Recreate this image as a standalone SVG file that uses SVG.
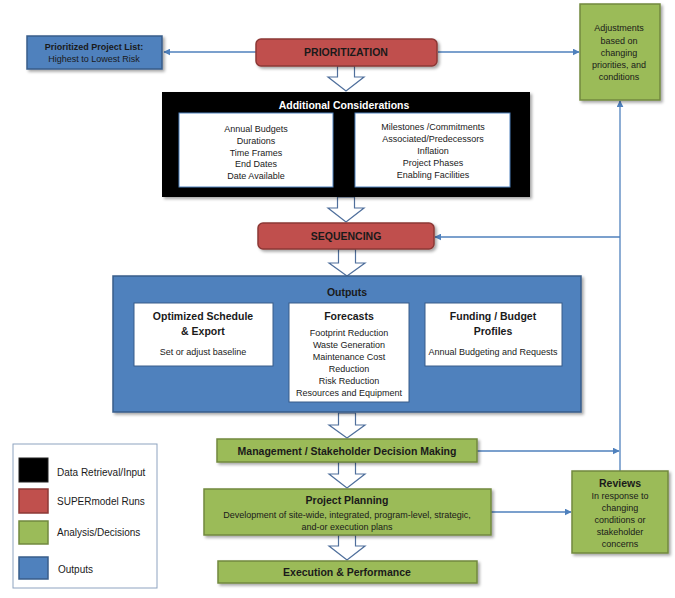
<svg xmlns="http://www.w3.org/2000/svg" width="675" height="598" viewBox="0 0 675 598">
<defs>
<filter id="sh" x="-10%" y="-20%" width="130%" height="150%">
<feDropShadow dx="2" dy="2" stdDeviation="1.5" flood-color="#000" flood-opacity="0.35"/>
</filter>
<marker id="ah" viewBox="0 0 10 10" refX="9" refY="5" markerWidth="7" markerHeight="7" orient="auto-start-reverse" markerUnits="userSpaceOnUse">
<path d="M0,0 L10,5 L0,10 Z" fill="#4F81BD"/>
</marker>
</defs>
<style>
text{font-family:"Liberation Sans",Arial,sans-serif;text-anchor:middle;fill:#1a1a1a}
.red{fill:#C0504D;stroke:#8C3836;stroke-width:1.5}
.grn{fill:#9BBB59;stroke:#71893F;stroke-width:1.5}
.blu{fill:#4F81BD;stroke:#385D8A;stroke-width:1.5}
.wht{fill:#fff;stroke:#385D8A;stroke-width:1}
.b{font-weight:bold}
.t{font-size:9px}
.h{font-size:10.5px;font-weight:bold}
.conn{stroke:#4F81BD;stroke-width:1.3;fill:none}
.big{fill:#fff;stroke:#4F6F9C;stroke-width:1.2}
.lg{font-size:10px;text-anchor:start}
</style>

<g id="connectors">
<line class="conn" x1="256" y1="52" x2="164" y2="52" marker-end="url(#ah)"/>
<line class="conn" x1="438" y1="52" x2="579" y2="52" marker-end="url(#ah)"/>
<line class="conn" x1="620" y1="471" x2="620" y2="101" marker-end="url(#ah)"/>
<line class="conn" x1="620" y1="237" x2="435" y2="237" marker-end="url(#ah)"/>
<line class="conn" x1="477" y1="451" x2="619" y2="451" marker-end="url(#ah)"/>
<line class="conn" x1="491" y1="512" x2="571" y2="512" marker-end="url(#ah)"/>
<polygon class="big" points="337.5,66 337.5,77 328,77 346,91 364,77 354.5,77 354.5,66"/>
<polygon class="big" points="337.5,197 337.5,208 328,208 346,222 364,208 354.5,208 354.5,197"/>
<polygon class="big" points="338.5,249 338.5,263 329,263 347,276 365,263 355.5,263 355.5,249"/>
<polygon class="big" points="338.5,413 338.5,425 329,425 347,438 365,425 355.5,425 355.5,413"/>
<polygon class="big" points="338.5,462 338.5,474 329,474 347,488 365,474 355.5,474 355.5,462"/>
<polygon class="big" points="338.5,535 338.5,546 329,546 347,560 365,546 355.5,546 355.5,535"/>
</g>

<g id="prioritized-list">
<rect class="blu" x="27" y="36" width="135" height="33" filter="url(#sh)"/>
<text class="t b" x="94" y="50">Prioritized Project List:</text>
<text class="t" x="94" y="62">Highest to Lowest Risk</text>
</g>

<g id="prioritization">
<rect class="red" x="256" y="39" width="181" height="27" rx="5" filter="url(#sh)"/>
<text class="h" x="346" y="56">PRIORITIZATION</text>
</g>

<g id="adjustments">
<rect class="grn" x="580" y="4" width="80" height="96" filter="url(#sh)"/>
<text class="t" x="619" y="31">Adjustments</text>
<text class="t" x="619" y="44">based on</text>
<text class="t" x="619" y="56">changing</text>
<text class="t" x="619" y="68">priorities, and</text>
<text class="t" x="619" y="80">conditions</text>
</g>

<g id="additional-considerations">
<rect x="162" y="92" width="368" height="105" fill="#000" filter="url(#sh)"/>
<text class="h" x="344" y="109" style="fill:#fff">Additional Considerations</text>
<rect x="179" y="113" width="154" height="74" fill="#fff" stroke="#4F81BD" stroke-width="1"/>
<rect x="355" y="113" width="155" height="74" fill="#fff" stroke="#4F81BD" stroke-width="1"/>
<text class="t" x="256" y="132">Annual Budgets</text>
<text class="t" x="256" y="144">Durations</text>
<text class="t" x="256" y="156">Time Frames</text>
<text class="t" x="256" y="167">End Dates</text>
<text class="t" x="256" y="179">Date Available</text>
<text class="t" x="433" y="130">Milestones /Commitments</text>
<text class="t" x="433" y="142">Associated/Predecessors</text>
<text class="t" x="433" y="154">Inflation</text>
<text class="t" x="433" y="166">Project Phases</text>
<text class="t" x="433" y="178">Enabling Facilities</text>
</g>

<g id="sequencing">
<rect class="red" x="258" y="223" width="176" height="26" rx="5" filter="url(#sh)"/>
<text class="h" x="346" y="240">SEQUENCING</text>
</g>

<g id="outputs">
<rect class="blu" x="113" y="276" width="468" height="136" filter="url(#sh)"/>
<text class="h" x="347" y="296">Outputs</text>
<rect class="wht" x="134" y="303" width="139" height="63"/>
<text class="h" x="203" y="320">Optimized Schedule</text>
<text class="h" x="203" y="335">&amp; Export</text>
<text class="t" x="203" y="355">Set or adjust baseline</text>
<rect class="wht" x="289" y="303" width="120" height="99"/>
<text class="h" x="349" y="320">Forecasts</text>
<text class="t" x="349" y="336">Footprint Reduction</text>
<text class="t" x="349" y="348">Waste Generation</text>
<text class="t" x="349" y="360">Maintenance Cost</text>
<text class="t" x="349" y="372">Reduction</text>
<text class="t" x="349" y="384">Risk Reduction</text>
<text class="t" x="349" y="396">Resources and Equipment</text>
<rect class="wht" x="425" y="303" width="137" height="63"/>
<text class="h" x="493" y="320">Funding / Budget</text>
<text class="h" x="493" y="335">Profiles</text>
<text class="t" x="493" y="355">Annual Budgeting and Requests</text>
</g>

<g id="management">
<rect class="grn" x="217" y="439" width="260" height="23" filter="url(#sh)"/>
<text class="h" x="347" y="455">Management / Stakeholder Decision Making</text>
</g>

<g id="project-planning">
<rect class="grn" x="204" y="489" width="287" height="46" filter="url(#sh)"/>
<text class="h" x="347" y="504">Project Planning</text>
<text class="t" x="347" y="518">Development of site-wide, integrated, program-level, strategic,</text>
<text class="t" x="347" y="530">and-or execution plans</text>
</g>

<g id="reviews">
<rect class="grn" x="572" y="471" width="96" height="82" filter="url(#sh)"/>
<text class="h" x="620" y="487">Reviews</text>
<text class="t" x="620" y="499">In response to</text>
<text class="t" x="620" y="511">changing</text>
<text class="t" x="620" y="523">conditions or</text>
<text class="t" x="620" y="535">stakeholder</text>
<text class="t" x="620" y="547">concerns</text>
</g>

<g id="execution">
<rect class="grn" x="218" y="561" width="259" height="22" filter="url(#sh)"/>
<text class="h" x="347" y="576">Execution &amp; Performance</text>
</g>

<g id="legend">
<rect x="13" y="444" width="144" height="144" fill="#fff" stroke="#8EA3C0" stroke-width="1"/>
<rect x="19" y="458" width="29" height="24" fill="#000" stroke="#222" stroke-width="1"/>
<rect class="red" x="19" y="489" width="29" height="24"/>
<rect class="grn" x="19" y="521" width="29" height="23"/>
<rect class="blu" x="19" y="557" width="29" height="22"/>
<text class="lg" x="57" y="476">Data Retrieval/Input</text>
<text class="lg" x="57" y="505">SUPERmodel Runs</text>
<text class="lg" x="57" y="536">Analysis/Decisions</text>
<text class="lg" x="58" y="573">Outputs</text>
</g>
</svg>
